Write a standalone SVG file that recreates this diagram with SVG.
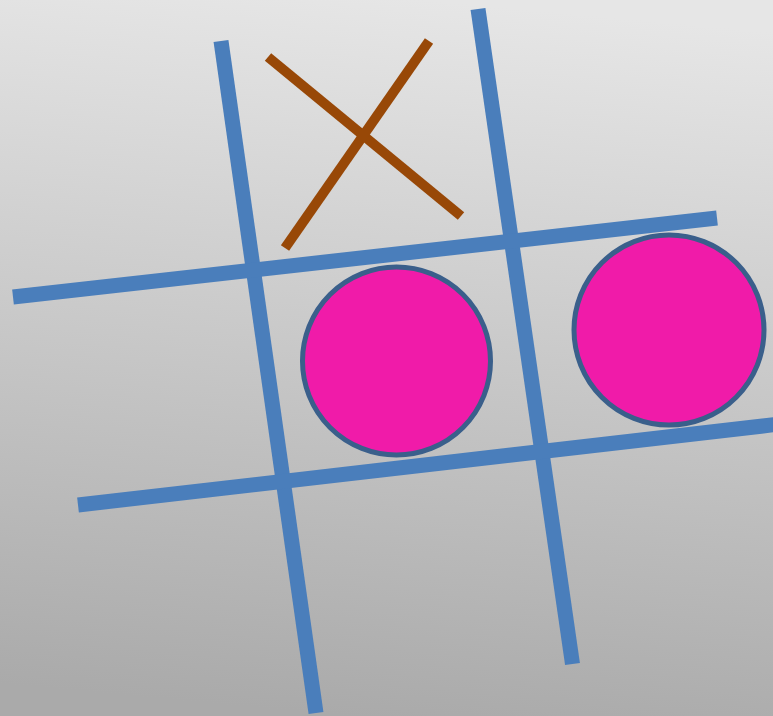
<svg xmlns="http://www.w3.org/2000/svg" width="773" height="716" viewBox="0 0 773 716">
<defs>
<linearGradient id="bg" x1="0.55" y1="0" x2="0.45" y2="1">
<stop offset="0" stop-color="#e6e6e6"/>
<stop offset="1" stop-color="#aaaaaa"/>
</linearGradient>
<style>
.grid{stroke:#4a7ebb;stroke-width:15;fill:none;stroke-linecap:butt}
.x{stroke:#984807;stroke-width:10;fill:none;stroke-linecap:butt}
.o{fill:#f01ba9;stroke:#3a5f8b;stroke-width:5}
</style>
</defs>
<rect width="773" height="716" fill="url(#bg)"/>
<g id="grid">
<line class="grid" x1="221" y1="41" x2="316" y2="713"/>
<line class="grid" x1="478" y1="9" x2="572.5" y2="664"/>
<line class="grid" x1="13" y1="297" x2="717" y2="218"/>
<line class="grid" x1="78" y1="505" x2="780" y2="424"/>
</g>
<g id="x-mark">
<line class="x" x1="268" y1="57" x2="461" y2="216"/>
<line class="x" x1="429" y1="41" x2="285" y2="248"/>
</g>
<g id="o-center">
<circle class="o" cx="396.5" cy="361" r="94"/>
</g>
<g id="o-right">
<circle class="o" cx="669" cy="330" r="95"/>
</g>
</svg>
